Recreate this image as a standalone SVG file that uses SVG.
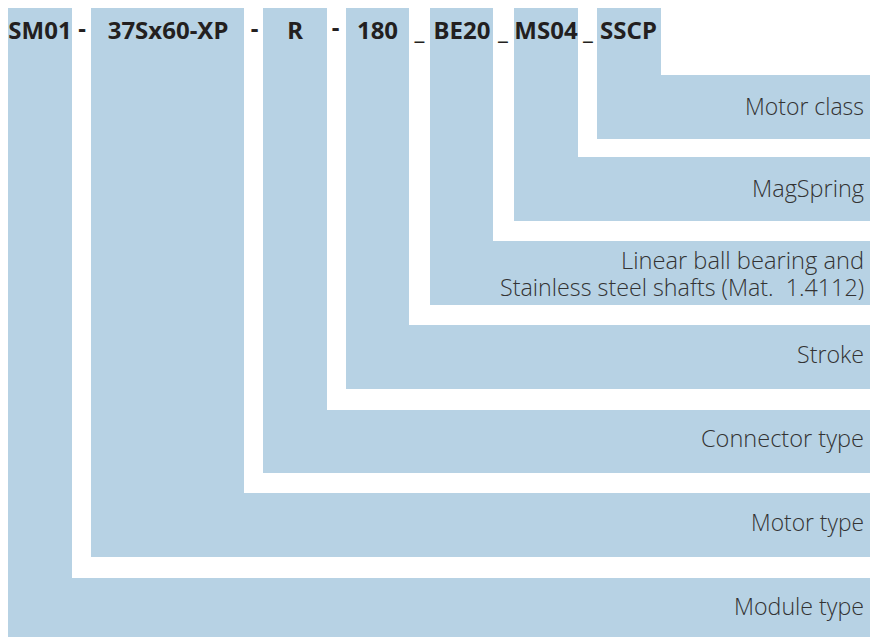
<svg xmlns="http://www.w3.org/2000/svg" width="870" height="637" viewBox="0 0 870 637">
<style>
.band{fill:#b7d2e4}
.code{font-family:"Noto Sans","Open Sans",sans-serif;font-weight:700;font-size:24px;fill:#231f20;text-anchor:middle}
.sep{font-family:"Noto Sans","Open Sans",sans-serif;font-weight:700;font-size:24px;fill:#231f20;text-anchor:middle}
.lbl{font-family:"Open Sans","Noto Sans",sans-serif;font-weight:300;font-size:24px;fill:#333333;text-anchor:end}
.lbl2{font-size:23px}
</style>
<rect width="870" height="637" fill="#ffffff"/>
<g id="module-type">
<path class="band" d="M8 8H72V578H870V637H8Z"/>
<text class="code" x="40" y="39">SM01</text>
<text class="lbl" x="864" y="615" textLength="130" lengthAdjust="spacingAndGlyphs">Module type</text>
</g>
<g id="motor-type">
<path class="band" d="M91 8H244V493H870V557H91Z"/>
<text class="code" x="168" y="39">37Sx60-XP</text>
<text class="lbl" x="864" y="531" textLength="113" lengthAdjust="spacingAndGlyphs">Motor type</text>
</g>
<g id="connector-type">
<path class="band" d="M263 8H327V410H870V473H263Z"/>
<text class="code" x="295" y="39">R</text>
<text class="lbl" x="864" y="447" textLength="163" lengthAdjust="spacingAndGlyphs">Connector type</text>
</g>
<g id="stroke">
<path class="band" d="M346 8H409V325H870V389H346Z"/>
<text class="code" x="377.5" y="39">180</text>
<text class="lbl" x="864" y="363" textLength="67" lengthAdjust="spacingAndGlyphs">Stroke</text>
</g>
<g id="bearing">
<path class="band" d="M430 8H493V241H870V305H430Z"/>
<text class="code" x="462" y="39">BE20</text>
<text class="lbl lbl2" x="864" y="269" textLength="243" lengthAdjust="spacingAndGlyphs">Linear ball bearing and</text>
<text class="lbl lbl2" x="864" y="296" textLength="364" lengthAdjust="spacingAndGlyphs" xml:space="preserve">Stainless steel shafts (Mat.&#160; 1.4112)</text>
</g>
<g id="magspring">
<path class="band" d="M514 8H578V157H870V221H514Z"/>
<text class="code" x="546" y="39">MS04</text>
<text class="lbl" x="864" y="197" textLength="112" lengthAdjust="spacingAndGlyphs">MagSpring</text>
</g>
<g id="motor-class">
<path class="band" d="M597 8H661V75H870V139H597Z"/>
<text class="code" x="628.5" y="39">SSCP</text>
<text class="lbl" x="864" y="115" textLength="119" lengthAdjust="spacingAndGlyphs">Motor class</text>
</g>
<g id="separators">
<text class="sep" x="82" y="37">-</text>
<text class="sep" x="254.5" y="37">-</text>
<text class="sep" x="335.5" y="36">-</text>
<text class="sep" x="419.5" y="39">_</text>
<text class="sep" x="503" y="39">_</text>
<text class="sep" x="588" y="39">_</text>
</g>
<g id="connectors"/>
</svg>
